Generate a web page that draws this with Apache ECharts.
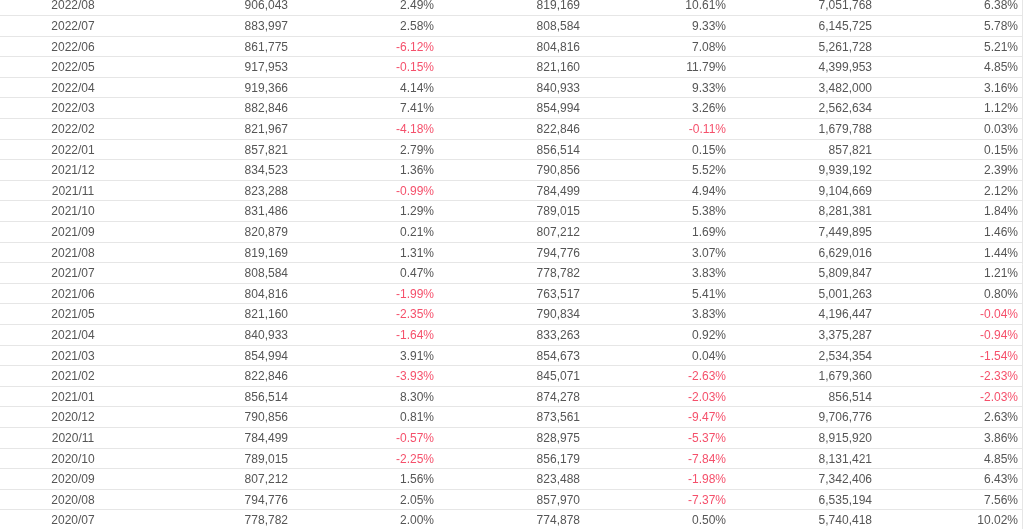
<!DOCTYPE html>
<html>
<head>
<meta charset="utf-8">
<script src="https://cdn.jsdelivr.net/npm/echarts@6/dist/echarts.min.js"></script>
<style>
  html, body { margin: 0; padding: 0; background: #fff; }
  #chart { width: 1024px; height: 529px; }
</style>
</head>
<body>
<div id="chart"></div>
<script>
// 月份（由新到旧）
const months = ['2022/08', '2022/07', '2022/06', '2022/05', '2022/04', '2022/03', '2022/02', '2022/01',
  '2021/12', '2021/11', '2021/10', '2021/09', '2021/08', '2021/07', '2021/06', '2021/05', '2021/04',
  '2021/03', '2021/02', '2021/01', '2020/12', '2020/11', '2020/10', '2020/09', '2020/08', '2020/07']
const monthValue = [906043, 883997, 861775, 917953, 919366, 882846, 821967, 857821,
  834523, 823288, 831486, 820879, 819169, 808584, 804816, 821160, 840933,
  854994, 822846, 856514, 790856, 784499, 789015, 807212, 794776, 778782]
const monthChange = [2.49, 2.58, -6.12, -0.15, 4.14, 7.41, -4.18, 2.79,
  1.36, -0.99, 1.29, 0.21, 1.31, 0.47, -1.99, -2.35, -1.64,
  3.91, -3.93, 8.30, 0.81, -0.57, -2.25, 1.56, 2.05, 2.00]
const lastYearValue = [819169, 808584, 804816, 821160, 840933, 854994, 822846, 856514,
  790856, 784499, 789015, 807212, 794776, 778782, 763517, 790834, 833263,
  854673, 845071, 874278, 873561, 828975, 856179, 823488, 857970, 774878]
const yearChange = [10.61, 9.33, 7.08, 11.79, 9.33, 3.26, -0.11, 0.15,
  5.52, 4.94, 5.38, 1.69, 3.07, 3.83, 5.41, 3.83, 0.92,
  0.04, -2.63, -2.03, -9.47, -5.37, -7.84, -1.98, -7.37, 0.50]
const cumValue = [7051768, 6145725, 5261728, 4399953, 3482000, 2562634, 1679788, 857821,
  9939192, 9104669, 8281381, 7449895, 6629016, 5809847, 5001263, 4196447, 3375287,
  2534354, 1679360, 856514, 9706776, 8915920, 8131421, 7342406, 6535194, 5740418]
const cumChange = [6.38, 5.78, 5.21, 4.85, 3.16, 1.12, 0.03, 0.15,
  2.39, 2.12, 1.84, 1.46, 1.44, 1.21, 0.80, -0.04, -0.94,
  -1.54, -2.33, -2.03, 2.63, 3.86, 4.85, 6.43, 7.56, 10.02]
const columns = ['月份', '当月', '环比', '去年同期', '同比', '累计', '累计同比']

const textColor = '#555'
const redColor = '#f5506b'
const lineColor = '#e6e6e6'

const num = v => v.toLocaleString('en-US')
const pct = v => v.toFixed(2) + '%'

// 每个单元格: [列, 行, 文本, 是否为负]
const cells = []
months.forEach((m, i) => {
  cells.push([0, i, m, 0])
  cells.push([1, i, num(monthValue[i]), 0])
  cells.push([2, i, pct(monthChange[i]), monthChange[i] < 0 ? 1 : 0])
  cells.push([3, i, num(lastYearValue[i]), 0])
  cells.push([4, i, pct(yearChange[i]), yearChange[i] < 0 ? 1 : 0])
  cells.push([5, i, num(cumValue[i]), 0])
  cells.push([6, i, pct(cumChange[i]), cumChange[i] < 0 ? 1 : 0])
})

const chart = echarts.init(document.getElementById('chart'))
chart.setOption({
  animation: false,
  grid: { left: 0, right: 2, top: -5.3, height: 535.6, outerBoundsMode: 'none' },
  xAxis: {
    type: 'category',
    data: columns,
    show: false
  },
  yAxis: {
    type: 'category',
    data: months,
    inverse: true,
    position: 'right',
    axisLine: { show: true, lineStyle: { color: lineColor } },
    axisTick: { show: false },
    axisLabel: { show: false },
    splitLine: { show: true, lineStyle: { color: lineColor } }
  },
  series: [{
    type: 'custom',
    data: cells,
    encode: { x: 0, y: 1 },
    renderItem: (params, api) => {
      const col = api.value(0)
      const p = api.coord([col, api.value(1)])
      const w = api.size([1, 0])[0]
      const idx = params.dataIndex
      const isFirst = col === 0
      return {
        type: 'text',
        x: isFirst ? p[0] : p[0] + w / 2 - 4,
        y: p[1] + 1,
        style: {
          text: cells[idx][2],
          fill: cells[idx][3] ? redColor : textColor,
          font: '12px "Liberation Sans", Arial, sans-serif',
          align: isFirst ? 'center' : 'right',
          verticalAlign: 'middle'
        }
      }
    }
  }]
})
</script>
</body>
</html>
